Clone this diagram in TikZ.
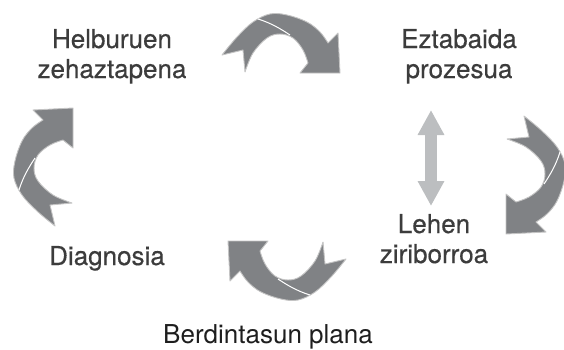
\documentclass[tikz,border=0pt]{standalone}
\usepackage{fontspec}
\setmainfont{TeX Gyre Heros}
\newfontfamily\medfont{TeX Gyre Heros}[FakeBold=0.5]
\usetikzlibrary{arrows.meta}
\definecolor{arrowgray}{HTML}{808285}
\definecolor{arrowedge}{HTML}{C4C4C4}
\definecolor{lightarrow}{HTML}{BCBEC0}
\definecolor{txt}{HTML}{3C3C3C}
\definecolor{txtdark}{HTML}{1E1E1E}
\newcommand\cyclearrow{%
  \filldraw[fill=arrowgray, draw=arrowedge, line width=0.9pt, line join=round]
    (-59,12) -- (-38,7)
    -- plot[smooth, tension=0.6] coordinates {(-36,29) (-28,10) (-14,-5) (-1,-9) (12,-5) (22,7) (27,20)}
    -- (19,30) -- (59,30) -- (57,-10)
    -- plot[smooth, tension=0.6] coordinates {(47,0) (39,-11) (26,-21) (6,-28) (-11,-29) (-28,-21) (-44,-6) (-59,12)}
    -- cycle;
  \draw[white, line width=1pt] (-23,-24) .. controls (-10,-20) and (0,-14) .. (9,-8);
}
\tikzset{
  lbl/.style={text=txt, align=center, inner sep=0pt, font=\medfont\fontsize{26}{30}\selectfont},
}
\begin{document}
\begin{tikzpicture}[x=1pt, y=-1pt]
\useasboundingbox (0,0) rectangle (564,349);
% cycle arrows
\begin{scope}[shift={(281,43)}]\cyclearrow\end{scope}
\begin{scope}[shift={(536,175)}, rotate=-90]\cyclearrow\end{scope}
\begin{scope}[shift={(287,271)}, rotate=180]\cyclearrow\end{scope}
\begin{scope}[shift={(43,167)}, rotate=90]\cyclearrow\end{scope}
% labels (base = baseline of last line)
\node[lbl, anchor=base] (helb) at (112,78) {Helburuen\\zehaztapena};
\node[lbl, anchor=base] (ezt) at (459,78) {Eztabaida\\prozesua};
\node[lbl, anchor=base] (leh) at (434,263) {Lehen\\ziriborroa};
\node[lbl, anchor=base] (diag) at (107,265) {Diagnosia};
\node[lbl, anchor=base, text=txtdark, font=\rmfamily\fontsize{26}{30}\selectfont] (berd) at (268,343) {Berdintasun plana};
% double arrow
\coordinate (dtop) at (431,110);
\coordinate (dbot) at (431,206);
\draw[lightarrow, line width=12pt, {Triangle[width=25pt,length=25pt]}-{Triangle[width=25pt,length=25pt]}] (dtop) -- (dbot);
\end{tikzpicture}
\end{document}
